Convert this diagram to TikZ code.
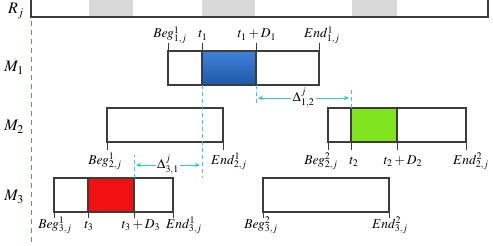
\documentclass[tikz,border=0pt]{standalone}
\usepackage{mathptmx}
\usepackage{tikz}
\usetikzlibrary{arrows.meta,positioning}
\definecolor{gntline}{HTML}{3C3C3C}
\definecolor{gntgray}{HTML}{D9D9D9}
\definecolor{gntcyan}{HTML}{33C3EA}
\definecolor{gntaxis}{HTML}{6E9A55}
\definecolor{opbluelt}{HTML}{3F82DA}
\definecolor{opbluedk}{HTML}{1F58A6}
\definecolor{opgreen}{HTML}{80E51E}
\definecolor{opred}{HTML}{F21111}

\begin{document}
\begin{tikzpicture}[x=1pt,y=-1pt,
  job/.style={draw=gntline,line width=1.2pt,fill=white,minimum height=34pt,inner sep=0pt,outer sep=0pt,anchor=north west},
  tick/.style={draw=gntline,line width=0.8pt},
  lbl/.style={font=\fontsize{13.5}{15}\selectfont,inner sep=0pt,anchor=base},
  mlabel/.style={font=\fontsize{16}{18}\selectfont,inner sep=0pt},
  gap/.style={draw=gntcyan,line width=0.9pt,dash pattern=on 4pt off 3pt},
  gaparrow/.style={draw=gntcyan,line width=0.9pt,<->},
  >={Stealth[length=5pt,width=4.5pt]}]
  \useasboundingbox (0,0) rectangle (493,246);
  % resource row
  \fill[gntgray] (89,0) rectangle (133,16);
  \fill[gntgray] (202,0) rectangle (255,16);
  \fill[gntgray] (352,0) rectangle (397,16);
  \draw[gntline,line width=1.2pt] (31,0) -- (31,17) -- (488,17) -- (488,0);
  \draw[gntaxis,line width=0.9pt,dash pattern=on 5pt off 4pt] (31,21) -- (31,246);
  \node[mlabel] (rj) at (16,11) {$R_j$};
  \node[mlabel] (l1) at (14,68) {$M_1$};
  \node[mlabel] (l2) at (14,127) {$M_2$};
  \node[mlabel] (l3) at (14,197) {$M_3$};
  % machine 1
  \node[job,minimum width=151pt] (m1a) at (168,51) {};
  \node[job,minimum width=54pt,top color=opbluelt,bottom color=opbluedk] (o1) at (202,51) {};
  \foreach \x in {168,202,256,319} \draw[tick] (\x,51) -- (\x,43);
  \node[lbl] (b11) at (170,38) {$Beg^1_{1,j}$};
  \node[lbl] (t1) at (203,38) {$t_1$};
  \node[lbl] (t1d) at (257,38) {$t_1+D_1$};
  \node[lbl] (e11) at (322,38) {$End^1_{1,j}$};
  % machine 2
  \node[job,minimum width=116pt] (m2a) at (107,108) {};
  \node[job,minimum width=138pt] (m2b) at (328,108) {};
  \node[job,minimum width=46pt,fill=opgreen] (o2) at (351,108) {};
  \foreach \x in {107,223,328,351,397,466} \draw[tick] (\x,143) -- (\x,150);
  \node[lbl] (b21) at (105,164) {$Beg^1_{2,j}$};
  \node[lbl] (e21) at (229,164) {$End^1_{2,j}$};
  \node[lbl] (b22) at (321,164) {$Beg^2_{2,j}$};
  \node[lbl] (t2) at (354,164) {$t_2$};
  \node[lbl] (t2d) at (403,164) {$t_2+D_2$};
  \node[lbl] (e22) at (471,164) {$End^2_{2,j}$};
  % machine 3
  \node[job,minimum width=119pt] (m3a) at (54,178) {};
  \node[job,minimum width=46pt,fill=opred] (o3) at (88,178) {};
  \node[job,minimum width=126pt] (m3b) at (263,178) {};
  \foreach \x in {54,88,134,173,263,389} \draw[tick] (\x,212) -- (\x,218);
  \node[lbl] (b31) at (55,228) {$Beg^1_{3,j}$};
  \node[lbl] (t3) at (89,228) {$t_3$};
  \node[lbl] (t3d) at (141,228) {$t_3+D_3$};
  \node[lbl] (e31) at (184,228) {$End^1_{3,j}$};
  \node[lbl] (b32) at (261,228) {$Beg^2_{3,j}$};
  \node[lbl] (e32) at (390,228) {$End^2_{3,j}$};
  % idle gaps
  \draw[gap] (o1.south west) -- (o1.south west |- m3a.north);
  \draw[gap] (o1.south east) -- ++(0,21);
  \draw[gap] (o2.north west) -- ++(0,-20);
  \draw[gap] (o3.north east) -- ++(0,-23);
  \coordinate (d12a) at (258,98);
  \coordinate (d12b) at (349,98);
  \coordinate (d31a) at (136,165);
  \coordinate (d31b) at (200,165);
  \draw[gaparrow] (d12a) -- (d12b) node[midway,fill=white,inner sep=1.5pt,font=\fontsize{13.5}{15}\selectfont] (g12) {$\Delta^j_{1,2}$};
  \draw[gaparrow] (d31a) -- (d31b) node[midway,fill=white,inner sep=1.5pt,font=\fontsize{13.5}{15}\selectfont] (g31) {$\Delta^j_{3,1}$};
\end{tikzpicture}
\end{document}
